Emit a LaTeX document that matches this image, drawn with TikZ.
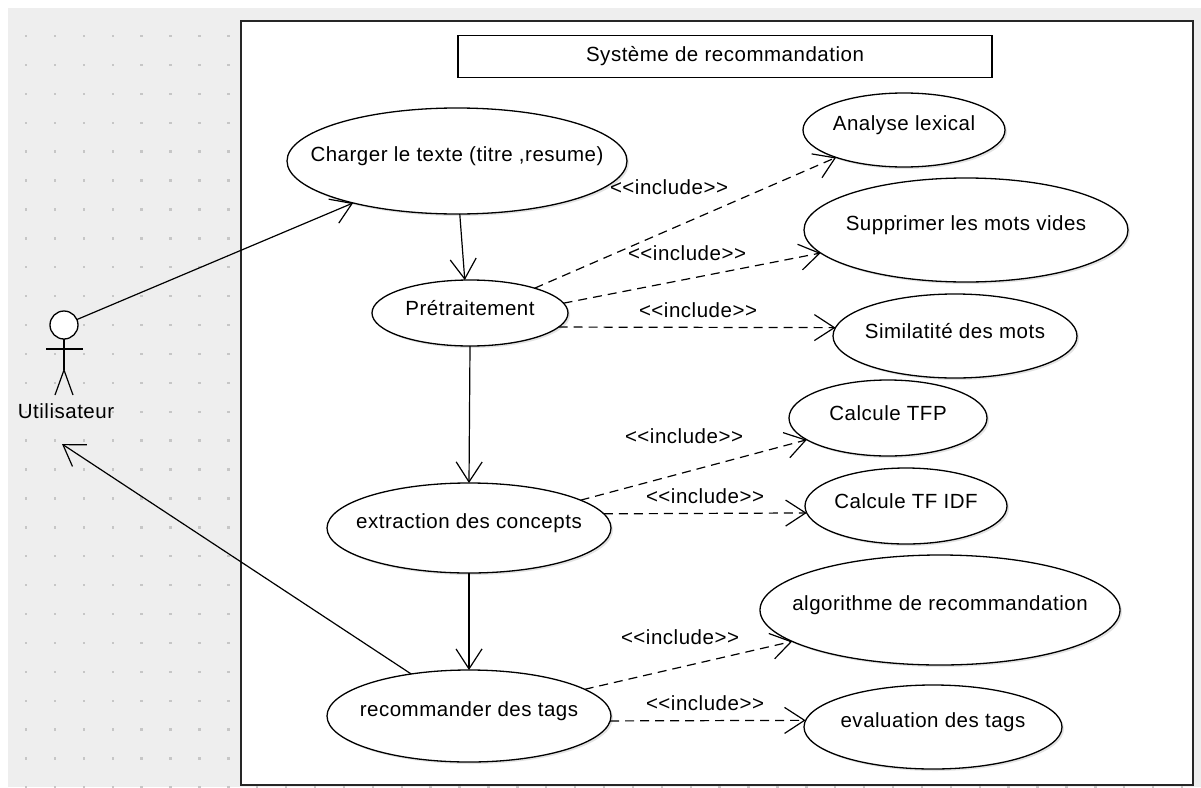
\documentclass[tikz,border=0pt]{standalone}
\usepackage{fontspec}
\setmainfont[LetterSpace=2.5]{Liberation Sans}
\usetikzlibrary{arrows.meta,shapes.geometric,shadows}
\definecolor{bggray}{HTML}{EEEEEE}
\definecolor{dotgray}{HTML}{C6C6C6}
\newcommand{\incltext}{<{}<include>{}>}
\begin{document}
\begin{tikzpicture}[x=1pt,y=-1pt,
  txt/.style={font=\fontsize{20.5}{24}\selectfont, inner sep=0pt},
  uc/.style={ellipse, draw=black, line width=1.3pt, fill=white, inner sep=0pt, outer sep=0pt,
    drop shadow={shadow xshift=2pt,shadow yshift=-2pt,opacity=0.22}},
  ucl/.style={label={[txt,yshift=4.5pt]center:#1}},
  assoc/.style={draw=black, line width=1.2pt},
  openarrow/.style={-{Straight Barb[length=20pt,width=26pt]}},
  incl/.style={draw=black, line width=1.2pt, dash pattern=on 9pt off 6pt, openarrow},
  frame/.style={draw=black!85, line width=1.8pt, fill=white},
  titlebox/.style={draw=black, line width=1.4pt, fill=white, inner sep=0pt}
]
\useasboundingbox (0,0) rectangle (1201,787);
% background
\fill[bggray] (8,8) rectangle (1201,787);
\begin{scope}
  \clip (8,8) rectangle (1201,787);
  \foreach \i in {0,...,41}
    \foreach \j in {0,...,27}
      \fill[dotgray] ({26+28.9*\i-1.2},{7.1+28.9*\j-1.2}) rectangle ++(2.4,2.4);
\end{scope}
% system frame
\draw[frame] (241,21) rectangle (1193,785);
\node[titlebox, minimum width=534pt, minimum height=42pt] (title) at (725,56.5) {};
\node[txt] (titletext) at (725,56) {Système de recommandation};

% actor
\node[circle, draw=black, line width=1.3pt, fill=white, minimum size=28pt, inner sep=0pt, outer sep=0pt] (head) at (64,325) {};
\coordinate (hip) at (64,370);
\coordinate (armL) at (46,349);
\coordinate (armR) at (83,349);
\coordinate (footL) at (55,395);
\coordinate (footR) at (73,395);
\draw[assoc] (head.south) -- (hip);
\draw[assoc] (armL) -- (armR);
\draw[assoc] (footL) -- (hip) -- (footR);
\node[txt] (user) at (66,411) {Utilisateur};
\coordinate (actorbot) at (62,444);

% use cases
\node[uc, minimum width=340pt, minimum height=106pt, ucl={Charger le texte (titre ,resume)}] (charger) at (457,161) {};
\node[uc, minimum width=196pt, minimum height=66pt, ucl={Prétraitement}] (pre) at (470,313) {};
\node[uc, minimum width=284pt, minimum height=90pt, ucl={extraction des concepts}] (extr) at (469,528) {};
\node[uc, minimum width=284pt, minimum height=92pt, ucl={recommander des tags}] (reco) at (469,716) {};
\node[uc, minimum width=202pt, minimum height=74pt, ucl={Analyse lexical}] (anal) at (904,130) {};
\node[uc, minimum width=324pt, minimum height=104pt, ucl={Supprimer les mots vides}] (supp) at (966,230) {};
\node[uc, minimum width=244pt, minimum height=84pt, ucl={Similatité des mots}] (simi) at (955,336) {};
\node[uc, minimum width=198pt, minimum height=76pt, ucl={Calcule TFP}] (tfp) at (888,418) {};
\node[uc, minimum width=202pt, minimum height=76pt, ucl={Calcule TF IDF}] (tfidf) at (906,506) {};
\node[uc, minimum width=360pt, minimum height=110pt, ucl={algorithme de recommandation}] (algo) at (940,610) {};
\node[uc, minimum width=258pt, minimum height=84pt, ucl={evaluation des tags}] (eval) at (933,727) {};

% associations
\draw[assoc, openarrow] (head) -- (charger.202.9);
\draw[assoc, openarrow] (charger.273) -- (pre.99);
\draw[assoc, openarrow] (pre.south) -- (extr.north);
\draw[assoc, openarrow] (extr.south) -- (reco.north);
\draw[assoc, openarrow] (reco.144.8) -- (actorbot);

% includes
\draw[incl] (pre.21.2) -- (anal.202.4);
\draw[incl] (pre.6.8) -- (supp.189.1);
\draw[incl] (pre.-9.8) -- (simi.176.1);
\draw[incl] (extr.14.9) -- (tfp.195);
\draw[incl] (extr.6.4) -- (tfidf.184);
\draw[incl] (reco.13.3) -- (algo.192.7);
\draw[incl] (reco.-2) -- (eval.177.3);

\node[txt] (i1) at (669,187) {\incltext};
\node[txt] (i2) at (687,253) {\incltext};
\node[txt] (i3) at (698,310) {\incltext};
\node[txt] (i4) at (684,436) {\incltext};
\node[txt] (i5) at (705,496) {\incltext};
\node[txt] (i6) at (680,637) {\incltext};
\node[txt] (i7) at (705,703) {\incltext};
\end{tikzpicture}
\end{document}
